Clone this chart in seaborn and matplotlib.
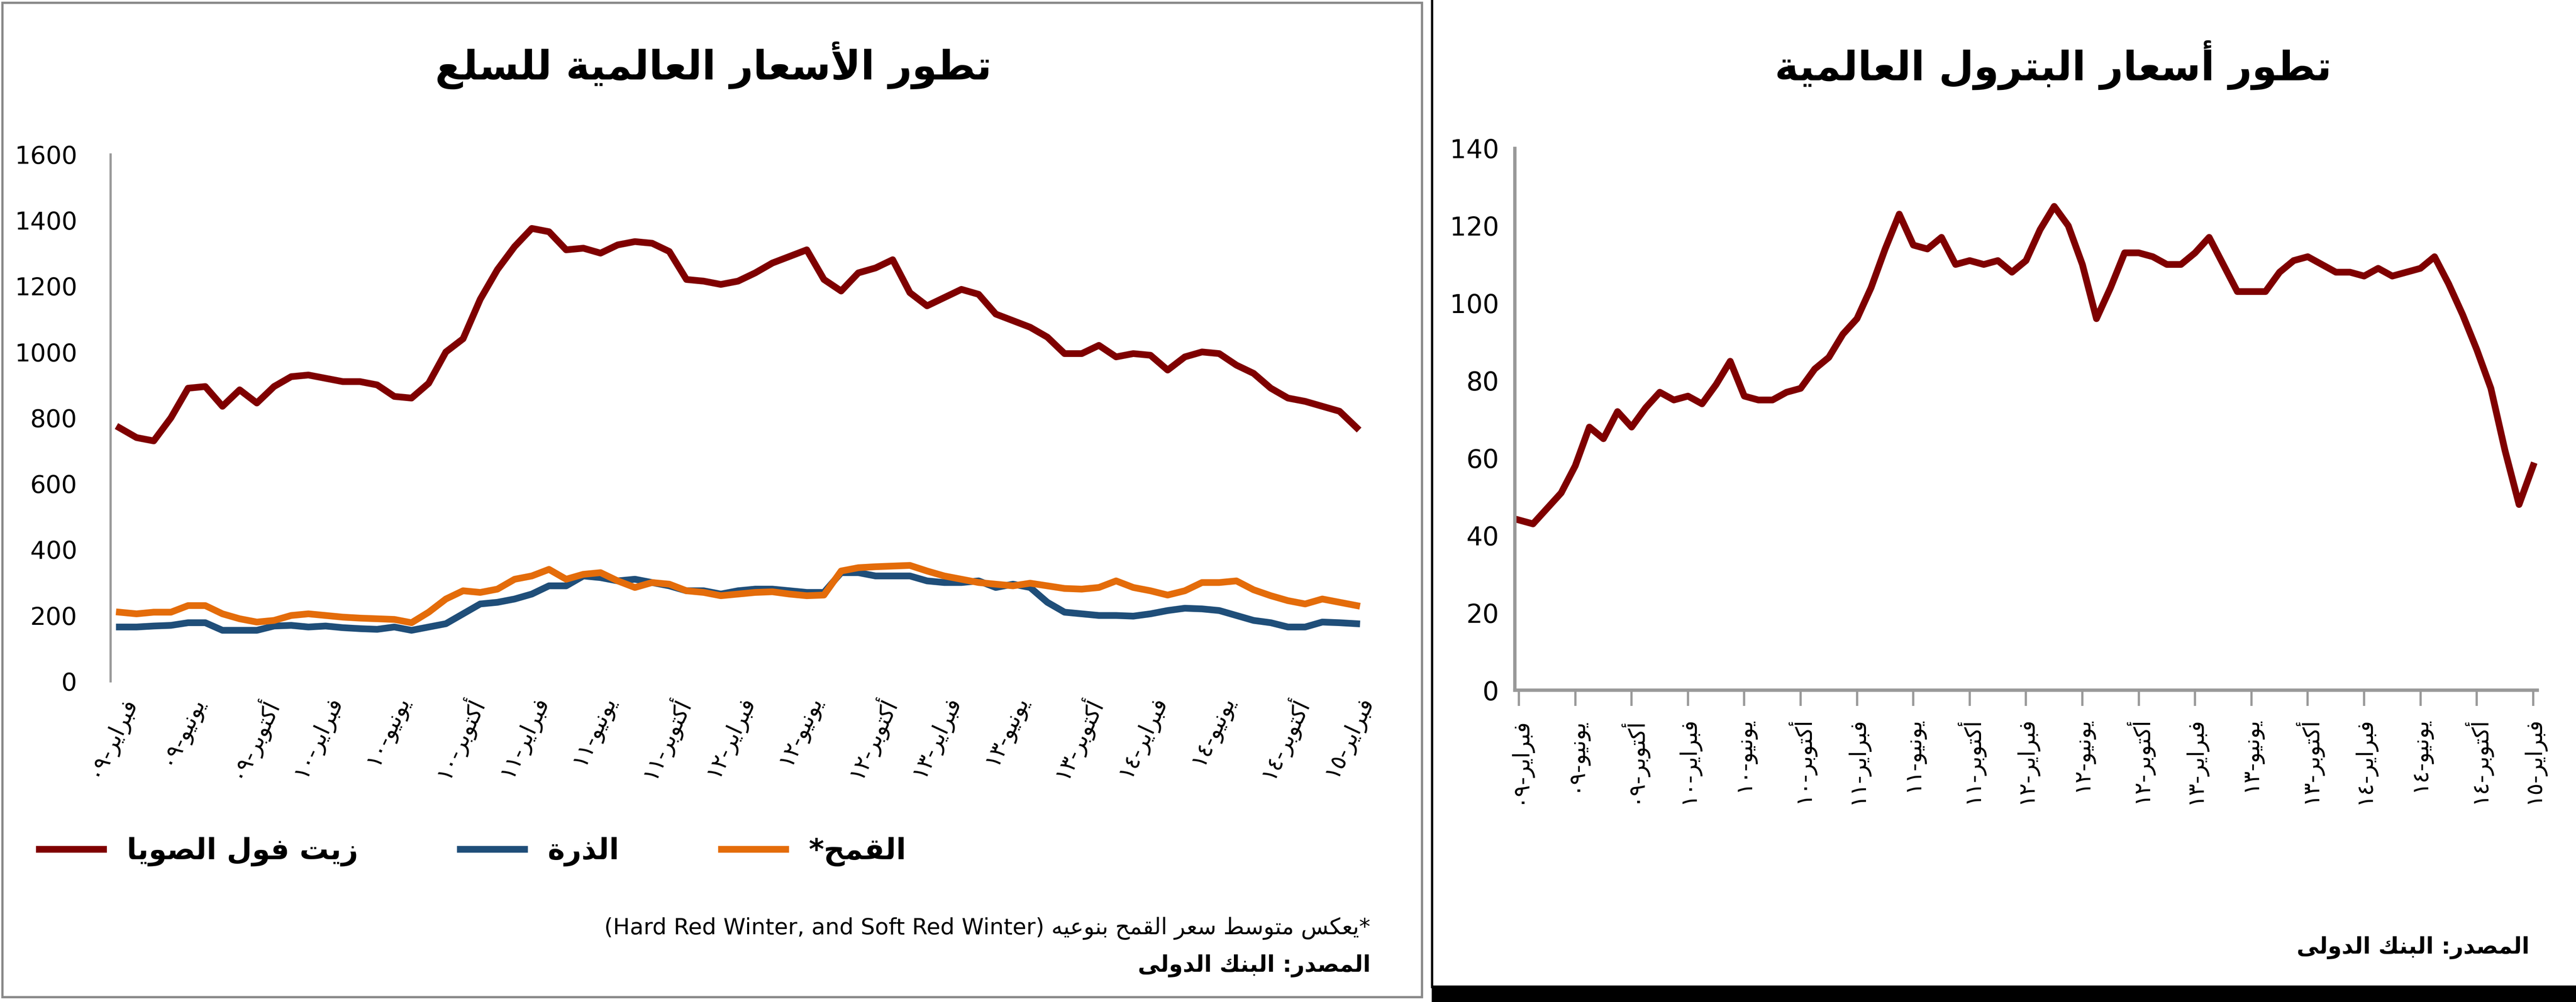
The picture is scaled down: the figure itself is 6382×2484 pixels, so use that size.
import numpy as np
import pandas as pd
import matplotlib
matplotlib.use("Agg")
import matplotlib.pyplot as plt
import seaborn as sns

# ---- data (monthly, Feb 2009 - Feb 2015) ----
soy_oil = [770, 740, 730, 800, 890, 895, 835, 885, 845, 895, 925,
           930, 920, 910, 910, 900, 865, 860, 905, 1000, 1040, 1160, 1250,
           1320, 1375, 1365, 1310, 1315, 1300, 1325, 1335, 1330, 1305, 1220, 1215,
           1205, 1215, 1240, 1270, 1290, 1310, 1220, 1185, 1240, 1255, 1280, 1180,
           1140, 1165, 1190, 1175, 1115, 1095, 1075, 1045, 995, 995, 1020, 985,
           995, 990, 945, 985, 1000, 995, 960, 935, 890, 860, 850, 835,
           820, 770]
corn = [165, 165, 168, 170, 178, 178, 155, 155, 155, 168, 170,
        165, 168, 163, 160, 158, 165, 155, 165, 175, 205, 235, 240,
        250, 265, 290, 290, 320, 315, 305, 310, 300, 290, 275, 275,
        265, 275, 280, 280, 275, 270, 270, 330, 330, 320, 320, 320,
        305, 300, 300, 305, 285, 295, 285, 240, 210, 205, 200, 200,
        198, 205, 215, 222, 220, 215, 200, 185, 178, 165, 165, 180,
        178, 175]
wheat = [210, 205, 210, 210, 230, 230, 205, 190, 180, 185, 200,
         205, 200, 195, 192, 190, 188, 178, 210, 250, 275, 270, 280,
         310, 320, 340, 310, 325, 330, 305, 285, 300, 295, 275, 270,
         260, 265, 270, 272, 265, 260, 262, 335, 345, 348, 350, 352,
         335, 320, 310, 300, 295, 290, 298, 290, 282, 280, 285, 305,
         285, 275, 262, 275, 300, 300, 305, 278, 260, 245, 235, 250,
         240, 230]
oil = [44, 43, 47, 51, 58, 68, 65, 72, 68, 73, 77,
       75, 76, 74, 79, 85, 76, 75, 75, 77, 78, 83, 86,
       92, 96, 104, 114, 123, 115, 114, 117, 110, 111, 110, 111,
       108, 111, 119, 125, 120, 110, 96, 104, 113, 113, 112, 110,
       110, 113, 117, 110, 103, 103, 103, 108, 111, 112, 110, 108,
       108, 107, 109, 107, 108, 109, 112, 105, 97, 88, 78, 62,
       48, 58]
tick_months = ["فبراير", "يونيو", "أكتوبر"]
tick_years = ["٠٩", "١٠", "١١", "١٢", "١٣", "١٤", "١٥"]

# ---- minimal Arabic shaping (matplotlib has no bidi/shaping) ----
FORMS = {
    "ا": (0xFE8D, 2), "أ": (0xFE83, 2), "ب": (0xFE8F, 4), "ة": (0xFE93, 2),
    "ت": (0xFE95, 4), "ج": (0xFE9D, 4), "ح": (0xFEA1, 4), "د": (0xFEA9, 2),
    "ذ": (0xFEAB, 2), "ر": (0xFEAD, 2), "ز": (0xFEAF, 2), "س": (0xFEB1, 4),
    "ش": (0xFEB5, 4), "ص": (0xFEB9, 4), "ط": (0xFEC1, 4), "ع": (0xFEC9, 4),
    "ف": (0xFED1, 4), "ق": (0xFED5, 4), "ك": (0xFED9, 4), "ل": (0xFEDD, 4),
    "م": (0xFEE1, 4), "ن": (0xFEE5, 4), "ه": (0xFEE9, 4), "و": (0xFEED, 2),
    "ى": (0xFEEF, 2), "ي": (0xFEF1, 4),
}
LAM_ALEF = {"ا": 0xFEFB, "أ": 0xFEF7}


def shape(s):
    out = []
    prev = None
    i = 0
    while i < len(s):
        ch = s[i]
        nxt = s[i + 1] if i + 1 < len(s) else None
        pj = prev in FORMS and FORMS[prev][1] == 4
        if ch == "ل" and nxt in LAM_ALEF:
            out.append(chr(LAM_ALEF[nxt] + (1 if pj else 0)))
            prev = "ا"
            i += 2
            continue
        if ch in FORMS:
            base, n = FORMS[ch]
            nj = nxt in FORMS
            if n == 4:
                k = 3 if (pj and nj) else 1 if pj else 2 if nj else 0
            else:
                k = 1 if pj else 0
            out.append(chr(base + k))
        else:
            out.append(ch)
        prev = ch
        i += 1
    return "".join(out)


def ar(s):
    return shape(s)[::-1]


tick_labels = []
for y in tick_years:
    for m in tick_months:
        tick_labels.append(y + "-" + ar(m))
tick_labels = tick_labels[:19]
tick_pos = np.arange(0, 73, 4)

n = len(oil)
df = pd.DataFrame({"m": np.arange(n), "soy": soy_oil, "corn": corn,
                   "wheat": wheat, "oil": oil})

plt.rcParams["font.family"] = "DejaVu Sans"
fig = plt.figure(figsize=(31.91, 12.42), dpi=200)

c_soy, c_corn, c_wheat = "#7F0000", "#1F4E79", "#E46C0A"

# ---- left chart ----
ax1 = fig.add_axes([0.043, 0.32, 0.487, 0.526])
sns.lineplot(data=df, x="m", y="soy", ax=ax1, color=c_soy, lw=6, label=ar("زيت فول الصويا"))
sns.lineplot(data=df, x="m", y="corn", ax=ax1, color=c_corn, lw=6, label=ar("الذرة"))
sns.lineplot(data=df, x="m", y="wheat", ax=ax1, color=c_wheat, lw=6, label=ar("القمح*"))
ax1.set_ylim(0, 1600)
ax1.set_yticks(range(0, 1601, 200))
ax1.set_xlim(-0.5, 72.5)
ax1.set_xticks(tick_pos)
ax1.set_xticklabels(tick_labels, rotation=65, ha="right", rotation_mode="anchor")
ax1.set_xlabel("")
ax1.set_ylabel("")
for s in ["top", "right", "bottom"]:
    ax1.spines[s].set_visible(False)
ax1.spines["left"].set_color("#999999")
ax1.spines["left"].set_linewidth(2)
ax1.tick_params(axis="y", labelsize=22, length=0, pad=30)
ax1.tick_params(axis="x", labelsize=20, length=0, pad=10)
ax1.legend(loc="center left", bbox_to_anchor=(0.005, 0.15), bbox_transform=fig.transFigure,
           ncol=3, frameon=False, handlelength=2.2, columnspacing=3.5,
           prop={"weight": "bold", "size": 26})

fig.text(0.277, 0.935, ar("تطور الأسعار العالمية للسلع"), ha="center", va="center",
         fontsize=36, fontweight="bold")
fig.text(0.532, 0.074, "(Hard Red Winter, and Soft Red Winter) " + ar("*يعكس متوسط سعر القمح بنوعيه"),
         ha="right", va="center", fontsize=20)
fig.text(0.532, 0.036, ar("المصدر: البنك الدولى"), ha="right", va="center",
         fontsize=20, fontweight="bold")

# ---- right chart ----
ax2 = fig.add_axes([0.588, 0.311, 0.397, 0.541])
sns.lineplot(data=df, x="m", y="oil", ax=ax2, color=c_soy, lw=6)
ax2.set_ylim(0, 140)
ax2.set_yticks(range(0, 141, 20))
ax2.set_xlim(-0.3, 72.3)
ax2.set_xticks(tick_pos)
ax2.set_xticklabels(tick_labels, rotation=90, ha="center", va="top")
ax2.set_xlabel("")
ax2.set_ylabel("")
for s in ["top", "right"]:
    ax2.spines[s].set_visible(False)
for s in ["left", "bottom"]:
    ax2.spines[s].set_color("#999999")
    ax2.spines[s].set_linewidth(3)
ax2.tick_params(axis="y", labelsize=23, length=0, pad=14)
ax2.tick_params(axis="x", labelsize=20, length=14, width=2, color="#999999", pad=10)
fig.text(0.797, 0.935, ar("تطور أسعار البترول العالمية"), ha="center", va="center",
         fontsize=36, fontweight="bold")
fig.text(0.982, 0.054, ar("المصدر: البنك الدولى"), ha="right", va="center",
         fontsize=20, fontweight="bold")

# ---- frame / separators ----
fig.add_artist(plt.Rectangle((0.001, 0.005), 0.551, 0.992, transform=fig.transFigure,
                             fill=False, edgecolor="#888888", lw=2))
fig.add_artist(plt.Line2D([0.556, 0.556], [0.015, 1.0], transform=fig.transFigure,
                          color="black", lw=2))
fig.add_artist(plt.Rectangle((0.556, 0.0), 0.444, 0.016, transform=fig.transFigure,
                             color="black"))

fig.savefig("out.png", dpi=200)
